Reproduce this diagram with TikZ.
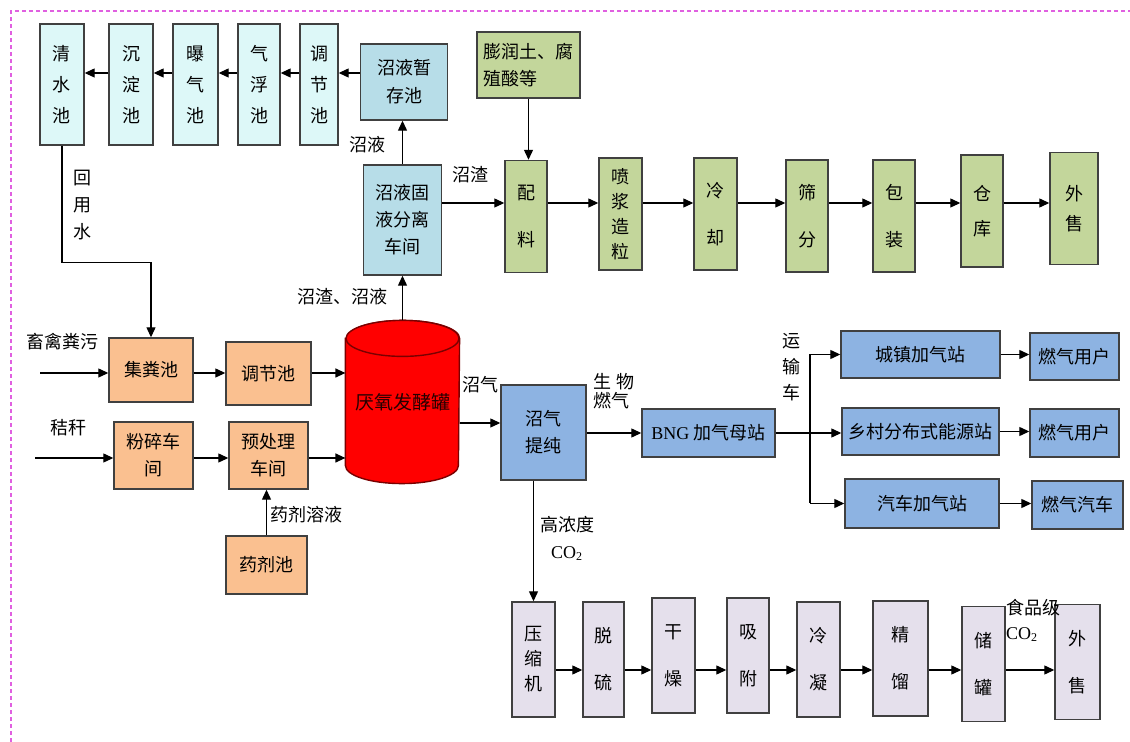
\documentclass[tikz,border=0pt]{standalone}
\usepackage{fontspec}
\setmainfont{Liberation Serif}
\newfontfamily\cjk{Noto Sans CJK SC}
\usetikzlibrary{arrows.meta}

\definecolor{cyanbox}{HTML}{DDF8F8}
\definecolor{tealbox}{HTML}{B7DDE8}
\definecolor{greenbox}{HTML}{C3D69B}
\definecolor{orangebox}{HTML}{FAC090}
\definecolor{bluebox}{HTML}{8DB3E2}
\definecolor{lilacbox}{HTML}{E5E0EC}
\definecolor{pinkline}{HTML}{E060E0}
\definecolor{tankred}{HTML}{FF0000}
\definecolor{tankedge}{HTML}{7A0000}

\begin{document}
\begin{tikzpicture}[x=0.5pt,y=-0.5pt,>={Triangle[length=5pt,width=4.5pt]},line width=0.6pt]
    \tikzstyle{box}=[draw=black!75,line width=0.7pt,inner sep=0pt,align=center,font=\cjk\fontsize{9}{13.5}\selectfont]
    \tikzstyle{cyan box}=[box,fill=cyanbox,minimum height=60.5pt,font=\cjk\fontsize{9}{15.5}\selectfont]
    \tikzstyle{teal box}=[box,fill=tealbox]
    \tikzstyle{green box}=[box,fill=greenbox,minimum height=56pt,font=\cjk\fontsize{9}{12.5}\selectfont]
    \tikzstyle{orange box}=[box,fill=orangebox]
    \tikzstyle{blue box}=[box,fill=bluebox]
    \tikzstyle{lilac box}=[box,fill=lilacbox,minimum height=57.5pt,font=\cjk\fontsize{9}{12.5}\selectfont]
    \tikzstyle{annot}=[inner sep=1pt,align=center,font=\cjk\fontsize{9}{13.5}\selectfont]
    \tikzstyle{tank body}=[fill=tankred,draw=tankedge,line width=0.7pt]

    \useasboundingbox (0,0) rectangle (1130,742);
    % dashed page frame
    \draw[pinkline,line width=0.8pt,dash pattern=on 2pt off 1.5pt] (11,742) -- (11,11) -- (1130,11);

    % Draw the water treatment row
    \foreach \name/\x/\w/\txt in {qs/62/22/{清\\水\\池},cd/131/22/{沉\\淀\\池},pq/195.5/22.5/{曝\\气\\池},qf/259/21/{气\\浮\\池},tj/319/19/{调\\节\\池}}
        \node[cyan box,minimum width=\w pt] (\name) at (\x,84.5) {\txt};
    \node[teal box,minimum width=43.5pt,minimum height=38pt,font=\cjk\fontsize{9}{14}\selectfont] (zc) at (404,82) {沼液暂\\存池};
    \node[teal box,minimum width=39pt,minimum height=55pt] (fl) at (402.5,220) {沼液固\\液分离\\车间};

    % Draw the fertiliser row
    \node[green box,minimum width=51.5pt,minimum height=33pt,align=left,font=\cjk\fontsize{9}{13.5}\selectfont] (pr) at (528.5,65) {膨润土、腐\\殖酸等};
    \foreach \name/\x/\y/\w/\txt in {pl/526/216.5/21/{配\\[11pt]料},pj/620.5/214/21.5/{喷\\浆\\造\\粒},lq/715.5/214/21.5/{冷\\[11pt]却},sf/807/216/21/{筛\\[11pt]分},bz/894/216/21/{包\\[11pt]装},ck/982/211/21/{仓\\[5pt]库},ws/1074/208.5/24/{外\\[2.5pt]售}}
        \node[green box,minimum width=\w pt] (\name) at (\x,\y) {\txt};

    % Draw the pretreatment boxes
    \node[orange box,minimum width=42pt,minimum height=32pt] (jf) at (151,370) {集粪池};
    \node[orange box,minimum width=42.5pt,minimum height=31.5pt] (tj2) at (268.5,373.5) {调节池};
    \node[orange box,minimum width=39.5pt,minimum height=33.5pt] (fs) at (153.5,455.5) {粉碎车\\间};
    \node[orange box,minimum width=39.5pt,minimum height=33.5pt] (yc) at (268.5,455.5) {预处理\\车间};
    \node[orange box,minimum width=40.5pt,minimum height=29pt] (yj) at (266.5,565) {药剂池};

    % Draw the digester
    \node[minimum width=56.5pt,minimum height=81pt,inner sep=0pt] (tank) at (402.5,402) {};
    \draw[tank body] ([yshift=-9pt]tank.north west) -- ([yshift=9pt]tank.south west)
        arc[start angle=180,end angle=360,x radius=28.25pt,y radius=9pt]
        -- ([yshift=-9pt]tank.north east)
        arc[start angle=0,end angle=180,x radius=28.25pt,y radius=9pt] -- cycle;
    \draw[tank body] ([yshift=-9pt]tank.north) ellipse [x radius=28.25pt,y radius=9pt];
    \node[annot,text=black!85!red,font=\cjk\fontsize{9.5}{12}\selectfont] (tank-txt) at (tank) {厌氧发酵罐};

    % Draw the biogas boxes
    \node[blue box,minimum width=42.5pt,minimum height=47.5pt] (tc) at (543.5,432.5) {沼气\\提纯};
    \node[blue box,minimum width=66.5pt,minimum height=24pt] (bng) at (708.5,433) {{\rmfamily BNG} 加气母站};
    \node[blue box,minimum width=79.5pt,minimum height=23.5pt] (cz) at (920.5,354.5) {城镇加气站};
    \node[blue box,minimum width=78.5pt,minimum height=23.5pt] (xc) at (920.5,431.5) {乡村分布式能源站};
    \node[blue box,minimum width=77pt,minimum height=24.5pt] (qc) at (922,503.5) {汽车加气站};
    \node[blue box,minimum width=44.5pt,minimum height=23.5pt] (yh1) at (1074.5,356.5) {燃气用户};
    \node[blue box,minimum width=44.5pt,minimum height=24pt] (yh2) at (1074.5,433) {燃气用户};
    \node[blue box,minimum width=45.5pt,minimum height=24pt] (rq) at (1077.5,505) {燃气汽车};

    % Draw the CO2 row
    \foreach \name/\x/\y/\w/\txt in {ysj/533.5/659.5/21.5/{压\\缩\\机},tl/603.5/659.5/20.5/{脱\\[11pt]硫},gz/673.5/655.5/21.5/{干\\[11pt]燥},xf/748/655.5/21/{吸\\[11pt]附},ln/818.5/659.5/21.5/{冷\\[11pt]凝},jl/900.5/658.5/27.5/{精\\[11pt]馏},cg/983.5/664/21.5/{储\\[11pt]罐},ws2/1077.5/662/22.5/{外\\[11pt]售}}
        \node[lilac box,minimum width=\w pt] (\name) at (\x,\y) {\txt};

    % Connect the boxes
    \coordinate (r1) at (0,73);
    \coordinate (r2) at (0,203);
    \coordinate (r3) at (0,670);
    \coordinate (r4) at (0,423);
    \coordinate (in1) at (40,373);
    \coordinate (in2) at (35,458);
    \coordinate (sp) at (810,434);

    \foreach \a/\b in {zc/tj,tj/qf,qf/pq,pq/cd,cd/qs}
        \draw[->] (\a.west |- r1) -- (\b.east |- r1);
    \draw[->] (fl.north) -- (fl.north |- zc.south);
    \draw[->] (tank.north) -- (fl.south);
    \draw[->] (qs.south) -- ++(0,117) -| (jf.north);

    \draw[->] (fl.east |- r2) -- (pl.west |- r2);
    \foreach \a/\b in {pl/pj,pj/lq,lq/sf,sf/bz,bz/ck,ck/ws}
        \draw[->] (\a.east |- r2) -- (\b.west |- r2);
    \draw[->] (pr.south) -- (pr.south |- pl.north);

    \draw[->] (in1) -- (in1 -| jf.west);
    \draw[->] (jf.east |- in1) -- (tj2.west |- in1);
    \draw[->] (tj2.east |- in1) -- (tank.west |- in1);
    \draw[->] (in2) -- (in2 -| fs.west);
    \draw[->] (fs.east |- in2) -- (yc.west |- in2);
    \draw[->] (yc.east |- in2) -- (tank.west |- in2);
    \draw[->] (yj.north) -- (yj.north |- yc.south);

    \draw[->] (tank.east |- r4) -- (tc.west |- r4);
    \draw[->] (tc.east |- bng.west) -- (bng.west);
    \draw (sp |- cz.west) -- (sp |- qc.west);
    \draw[->] (sp |- cz.west) -- (cz.west);
    \draw[->] (bng.east) -- (bng.east -| xc.west);
    \draw[->] (sp |- qc.west) -- (qc.west);
    \draw[->] (cz.east) -- (cz.east -| yh1.west);
    \draw[->] (xc.east) -- (xc.east -| yh2.west);
    \draw[->] (qc.east) -- (qc.east -| rq.west);

    \draw[->] (ysj.north |- tc.south) -- (ysj.north);
    \foreach \a/\b in {ysj/tl,tl/gz,gz/xf,xf/ln,ln/jl,jl/cg,cg/ws2}
        \draw[->] (\a.east |- r3) -- (\b.west |- r3);

    % Annotate the streams
    \node[annot] (l-zy) at (367,145) {沼液};
    \node[annot] (l-zz) at (470,175) {沼渣};
    \node[annot] (l-zzy) at (342,297) {沼渣、沼液};
    \node[annot,font=\cjk\fontsize{9}{13.3}\selectfont] (l-hys) at (82,205) {回\\用\\水};
    \node[annot] (l-xq) at (62,342) {畜禽粪污};
    \node[annot] (l-jg) at (68,428) {秸秆};
    \node[annot,anchor=west] (l-yj) at (268,515) {药剂溶液};
    \node[annot] (l-zq) at (480,385) {沼气};
    \node[annot,align=left,font=\cjk\fontsize{9}{9.5}\selectfont] (l-sw) at (614,391) {生\ 物\\燃气};
    \node[annot,font=\cjk\fontsize{9}{13}\selectfont] (l-ysc) at (791,367) {运\\输\\车};
    \node[annot] (l-gnd) at (567,538) {高浓度\\{\rmfamily CO\textsubscript{2}}};
    \node[annot,align=left,font=\cjk\fontsize{9}{12.5}\selectfont] (l-sp) at (1033,620) {食品级\\{\rmfamily CO\textsubscript{2}}};
\end{tikzpicture}
\end{document}
